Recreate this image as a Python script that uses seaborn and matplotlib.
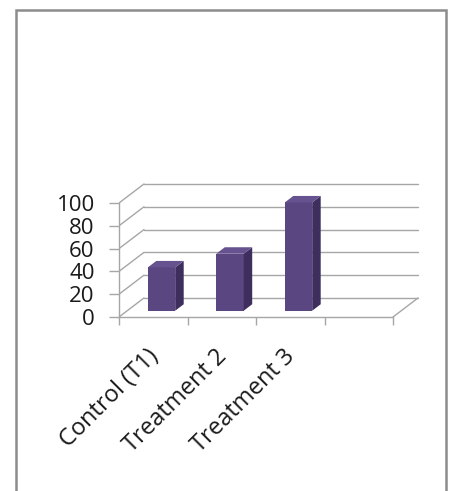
import numpy as np
import pandas as pd
import seaborn as sns
import matplotlib.pyplot as plt
import matplotlib.transforms as mtransforms
from matplotlib.patches import Polygon, Rectangle

# === Chart data ===
categories = ["Control (T1)", "Treatment 2", "Treatment 3"]
values = [38, 50, 95]
y_ticks = [0, 20, 40, 60, 80, 100]

# === Style ===
sns.set_style("white")
plt.rcParams["font.family"] = ["Open Sans", "DejaVu Sans"]

front_col = "#5A4680"
side_col = "#3D2E5E"
top_col = "#66528E"
grid_col = "#A6A6A6"
text_col = "#1A1A1A"

# fake 3D depth (data units)
DX, DY = 0.365, 16.7   # full floor depth
f, d = 0.33, 0.34      # bar offset / bar depth as fraction of floor

df = pd.DataFrame({"group": categories, "value": values})

fig = plt.figure(figsize=(4.53, 4.91), dpi=100)
ax = fig.add_axes([119 / 453, 1 - 317 / 491, 301 / 453, 137 / 491])

# === Back wall grid + side wall diagonals ===
x_lo, x_hi = -0.5, len(categories) + 0.5
for v in y_ticks:
    ax.plot([x_lo + DX, x_hi + DX], [v + DY, v + DY], color=grid_col, lw=1, zorder=1)
    ax.plot([x_lo, x_lo + DX], [v, v + DY], color=grid_col, lw=1, zorder=1)
ax.plot([x_hi, x_hi + DX], [0, DY], color=grid_col, lw=1, zorder=1)

# === Bars ===
sns.barplot(data=df, x="group", y="value", color=front_col, saturation=1,
            width=0.4, ax=ax, zorder=3)

for p in list(ax.patches):
    x0, w, h = p.get_x(), p.get_width(), p.get_height()
    xs, ys = x0 + f * DX, f * DY
    xb, yb = x0 + (f + d) * DX, (f + d) * DY
    p.set_x(xs)
    p.set_y(ys)
    p.set_edgecolor("none")
    side = Polygon([(xs + w, ys), (xb + w, yb), (xb + w, yb + h), (xs + w, ys + h)],
                   closed=True, facecolor=side_col, edgecolor="none", zorder=3)
    top = Polygon([(xs, ys + h), (xs + w, ys + h), (xb + w, yb + h), (xb, yb + h)],
                  closed=True, facecolor=top_col, edgecolor="none", zorder=3)
    ax.add_patch(side)
    ax.add_patch(top)

# === Axes ===
ax.set_xlim(-0.5, -0.5 + 301 / 68.5)
ax.set_ylim(0, 137 / 1.14)
ax.set_xlabel("")
ax.set_ylabel("")

for s in ["top", "right"]:
    ax.spines[s].set_visible(False)
ax.spines["left"].set_bounds(0, 100)
ax.spines["bottom"].set_bounds(x_lo, x_hi)
for s in ["left", "bottom"]:
    ax.spines[s].set_color(grid_col)
    ax.spines[s].set_linewidth(1)

ax.set_yticks(y_ticks)
ax.tick_params(axis="y", length=7.5, width=1, color=grid_col, labelsize=16,
               labelcolor=text_col, pad=10, left=True)

ax.set_xticks(np.arange(x_lo, x_hi + 0.01, 1), minor=True)
ax.set_xticks(range(len(categories)))
ax.set_xticklabels(categories, rotation=45, ha="right", rotation_mode="anchor")
ax.tick_params(axis="x", which="minor", length=6, width=1, color=grid_col,
               direction="out", bottom=True)
ax.tick_params(axis="x", which="major", length=0, labelsize=17,
               labelcolor=text_col, pad=20)
shift = mtransforms.ScaledTranslation(-7 / 100, 0, fig.dpi_scale_trans)
for lab in ax.get_xticklabels():
    lab.set_transform(lab.get_transform() + shift)

# === Frame around chart area ===
fig.patches.append(Rectangle((16 / 453, -0.05), (446 - 16) / 453, 1 - 10 / 491 + 0.05,
                             transform=fig.transFigure, fill=False,
                             edgecolor="#8C8C8C", lw=1.8))

fig.savefig("out.png", dpi=100)
